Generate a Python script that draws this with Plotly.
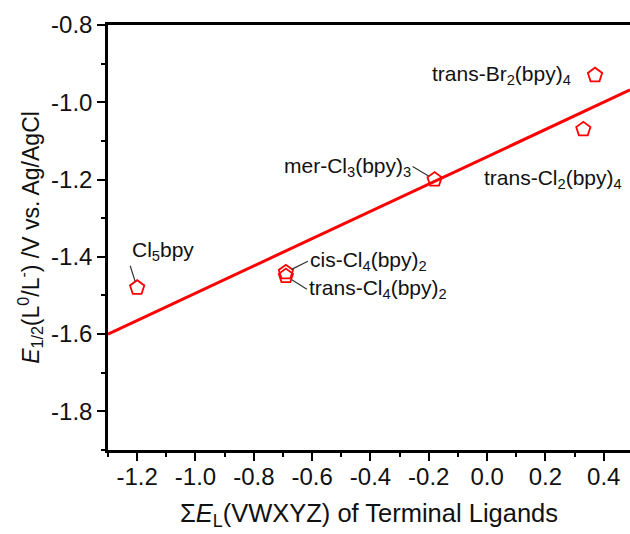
import plotly.graph_objects as go

# Data
labels = ["Cl<sub>5</sub>bpy", "cis-Cl<sub>4</sub>(bpy)<sub>2</sub>", "trans-Cl<sub>4</sub>(bpy)<sub>2</sub>",
          "mer-Cl<sub>3</sub>(bpy)<sub>3</sub>", "trans-Cl<sub>2</sub>(bpy)<sub>4</sub>", "trans-Br<sub>2</sub>(bpy)<sub>4</sub>"]
sum_EL = [-1.20, -0.69, -0.69, -0.18, 0.33, 0.37]
E_half = [-1.48, -1.44, -1.45, -1.20, -1.07, -0.93]

fit_x = [-1.30, 0.49]
fit_y = [-1.60, -0.968]

x_ticks = [-1.2, -1.0, -0.8, -0.6, -0.4, -0.2, 0.0, 0.2, 0.4]
y_ticks = [-1.8, -1.6, -1.4, -1.2, -1.0, -0.8]

FONT = "Liberation Sans, Arial, sans-serif"
RED = "#ff0000"
TXT = dict(family=FONT, size=21, color="#111111")
LEAD = dict(arrowhead=0, arrowwidth=1.2, arrowcolor="#333333")

fig = go.Figure()
fig.add_trace(go.Scatter(x=fit_x, y=fit_y, mode="lines",
                         line=dict(color=RED, width=3), showlegend=False, hoverinfo="skip"))
fig.add_trace(go.Scatter(x=sum_EL, y=E_half, mode="markers",
                         marker=dict(symbol="pentagon-open", size=15, color=RED,
                                     line=dict(color=RED, width=1.8)),
                         showlegend=False))

# Cl5bpy: text above, leader from the box's bottom-left corner
fig.add_annotation(x=sum_EL[0], y=E_half[0], text=labels[0], showarrow=True,
                   ax=-7, ay=-22, xanchor="left", yanchor="bottom",
                   standoff=7, font=TXT, **LEAD)
# cis-Cl4
fig.add_annotation(x=sum_EL[1], y=E_half[1], text=labels[1], showarrow=True,
                   ax=22, ay=-11, xanchor="left", standoff=7, font=TXT, **LEAD)
# trans-Cl4
fig.add_annotation(x=sum_EL[2], y=E_half[2], text=labels[2], showarrow=True,
                   ax=21, ay=13, xanchor="left", standoff=7, font=TXT, **LEAD)
# mer-Cl3
fig.add_annotation(x=sum_EL[3], y=E_half[3], text=labels[3], showarrow=True,
                   ax=-22, ay=-13, xanchor="right", standoff=7, font=TXT, **LEAD)
# trans-Cl2
fig.add_annotation(x=sum_EL[4], y=E_half[4], text=labels[4], showarrow=False,
                   xanchor="left", xshift=-101, yshift=-50, font=TXT)
# trans-Br2
fig.add_annotation(x=sum_EL[5], y=E_half[5], text=labels[5], showarrow=False,
                   xanchor="right", xshift=-22, yshift=0, font=TXT)

fig.update_layout(
    width=630, height=534,
    margin=dict(l=108, r=0, t=25, b=84),
    paper_bgcolor="white", plot_bgcolor="white",
    font=dict(family=FONT, size=24, color="#111111"),
    xaxis=dict(range=[-1.3, 0.49], tickvals=x_ticks, ticktext=[f"{v:.1f}" for v in x_ticks],
               ticks="outside", ticklen=8, tickwidth=2, tickcolor="black", ticklabelstandoff=-5,
               minor=dict(ticks="outside", ticklen=4, tickwidth=2, tickcolor="black", dtick=0.1, tick0=0),
               showline=True, linewidth=2.5, linecolor="black", mirror=True,
               showgrid=False, zeroline=False,
               title=dict(text="Σ<i>E</i><sub>L</sub>(VWXYZ) of Terminal Ligands", standoff=16,
                          font=dict(size=25.5))),
    yaxis=dict(range=[-1.9, -0.8], tickvals=y_ticks, ticktext=[f"{v:.1f}" for v in y_ticks],
               ticks="outside", ticklen=8, tickwidth=2, tickcolor="black",
               minor=dict(ticks="outside", ticklen=4, tickwidth=2, tickcolor="black", dtick=0.1, tick0=0),
               showline=True, linewidth=2.5, linecolor="black", mirror=False,
               showgrid=False, zeroline=False,
               title=dict(text="<i>E</i><sub>1/2</sub>(L<sup>0</sup>/L<sup>-</sup>) /V vs. Ag/AgCl",
                          standoff=6, font=dict(size=23))),
)

fig.write_html("out.html", config={"displayModeBar": False},
               post_script="document.body.style.margin='0';document.body.style.overflow='hidden';")
